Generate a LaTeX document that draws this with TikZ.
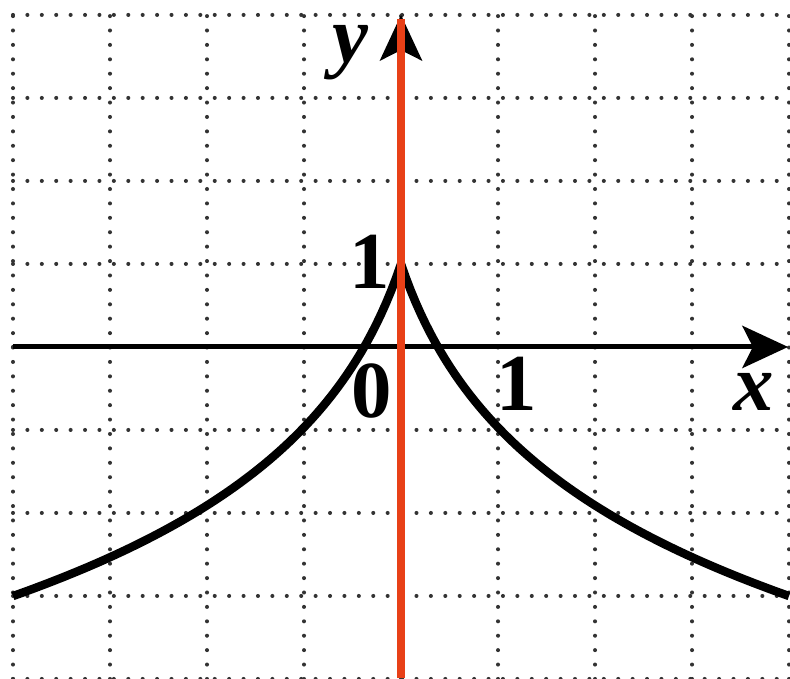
\documentclass[tikz,border=0pt]{standalone}
\usepackage{fontspec}
\setmainfont{Liberation Serif}
\usepackage{xcolor}
\usepackage{tikz}
\usetikzlibrary{arrows.meta}
\definecolor{myred}{rgb}{0.91, 0.25, 0.09}
\tikzstyle{gridline} = [line width=1.15pt, dash pattern=on 0pt off 4.1pt, line cap=round, black!80]
\tikzstyle{axis} = [line width=1.4pt, -{Stealth[length=13pt,width=12pt,inset=3pt]}]
\tikzstyle{redaxis} = [line width=2.4pt, myred]
\tikzstyle{curve} = [line width=2.4pt, line join=miter]
\tikzstyle{lbl} = [font=\fontsize{23}{23}\selectfont\bfseries, inner sep=0pt]

\begin{document}
\begin{tikzpicture}[x=0.97cm, y=0.83cm, >=Stealth]
\useasboundingbox (-4.134,-3.99) rectangle (4.01,4.18);

% dotted grid
\foreach \i in {-4,...,4} {
\draw[gridline] (\i,-4) -- (\i,4);
\draw[gridline] (-4,\i) -- (4,\i);
}

\coordinate (xstart) at (-4,0);
\coordinate (xend) at (3.99,0);
\coordinate (ybottom) at (0,-3.99);
\coordinate (ytop) at (0,4);
\coordinate (redtop) at (0,3.95);

\draw[axis] (xstart) -- (xend);

% the curve, two mirrored halves
\draw[curve] plot[domain=-4:0, samples=80] (\x,{1-1.88*ln(1-1.85*\x)})
-- plot[domain=0:4, samples=80] (\x,{1-1.88*ln(1+1.85*\x)});

\draw[axis] (ybottom) -- (ytop);
\draw[redaxis] (ybottom) -- (redtop);

\node[lbl, font=\fontsize{23}{23}\selectfont\bfseries\itshape] (ylabel) at (-0.52,3.54) {y};
\node[lbl, font=\fontsize{23}{23}\selectfont\bfseries\itshape] (xlabel) at (3.64,-0.54) {x};
\node[lbl] (oney) at (-0.32,1.02) {1};
\node[lbl] (origin) at (-0.30,-0.53) {0};
\node[lbl] (onex) at (1.19,-0.44) {1};
\end{tikzpicture}
\end{document}
